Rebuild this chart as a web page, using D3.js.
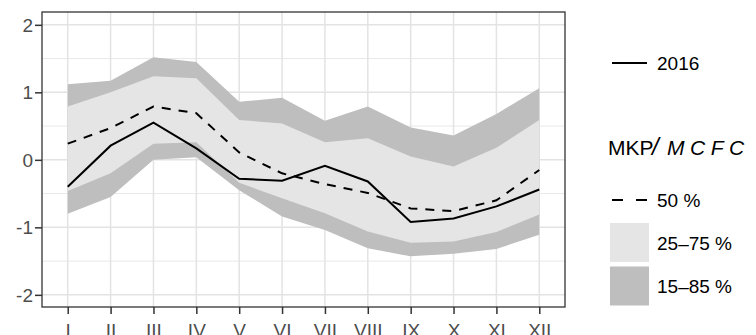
<!DOCTYPE html>
<html>
<head>
<meta charset="utf-8">
<script src="https://cdn.jsdelivr.net/npm/d3@7"></script>
<style>
  body { margin: 0; background: #fff; }
  svg { display: block; font-family: "Liberation Sans", Arial, sans-serif; }
</style>
</head>
<body>
<svg id="chart" width="756" height="335"></svg>
<script>
const months = ['I', 'II', 'III', 'IV', 'V', 'VI', 'VII', 'VIII', 'IX', 'X', 'XI', 'XII'];
const q15 = [-0.80, -0.55, 0.00, 0.04, -0.45, -0.84, -1.04, -1.31, -1.43, -1.39, -1.32, -1.11];
const q25 = [-0.46, -0.20, 0.24, 0.26, -0.34, -0.57, -0.79, -1.06, -1.23, -1.21, -1.07, -0.81];
const q50 = [0.24, 0.47, 0.79, 0.69, 0.11, -0.20, -0.36, -0.49, -0.72, -0.76, -0.60, -0.15];
const q75 = [0.79, 1.00, 1.24, 1.21, 0.59, 0.54, 0.26, 0.32, 0.05, -0.10, 0.18, 0.59];
const q85 = [1.12, 1.17, 1.52, 1.45, 0.86, 0.92, 0.58, 0.79, 0.48, 0.36, 0.68, 1.06];
const y2016 = [-0.40, 0.21, 0.55, 0.17, -0.28, -0.31, -0.09, -0.32, -0.92, -0.87, -0.69, -0.44];
const yTicks = [-2, -1, 0, 1, 2];
const yMinor = [-1.5, -0.5, 0.5, 1.5];

const panel = { left: 42, right: 565, top: 12, bottom: 307 };
const svg = d3.select('#chart');

const x = d3.scalePoint().domain(months).range([panel.left, panel.right]).padding(0.6);
const y = d3.scaleLinear().domain([-2.18, 2.19]).range([panel.bottom, panel.top]);

// grid
const grid = svg.append('g');
grid.selectAll('.minor').data(yMinor).enter().append('line')
  .attr('x1', panel.left).attr('x2', panel.right)
  .attr('y1', d => y(d)).attr('y2', d => y(d))
  .attr('stroke', '#e8e8e8').attr('stroke-width', 1);
grid.selectAll('.major').data(yTicks).enter().append('line')
  .attr('x1', panel.left).attr('x2', panel.right)
  .attr('y1', d => y(d)).attr('y2', d => y(d))
  .attr('stroke', '#e3e3e3').attr('stroke-width', 1.5);
grid.selectAll('.vx').data(months).enter().append('line')
  .attr('x1', d => x(d)).attr('x2', d => x(d))
  .attr('y1', panel.top).attr('y2', panel.bottom)
  .attr('stroke', '#e3e3e3').attr('stroke-width', 1.5);

// bands
const rows = months.map((m, i) => ({ m, q15: q15[i], q25: q25[i], q50: q50[i], q75: q75[i], q85: q85[i], v: y2016[i] }));
const band = (lo, hi) => d3.area().x(d => x(d.m)).y0(d => y(d[lo])).y1(d => y(d[hi]));

svg.append('path').datum(rows).attr('d', band('q15', 'q85')).attr('fill', '#bebebe');
svg.append('path').datum(rows).attr('d', band('q25', 'q75')).attr('fill', '#e5e5e5');

// lines
svg.append('path').datum(rows)
  .attr('d', d3.line().x(d => x(d.m)).y(d => y(d.q50)))
  .attr('fill', 'none').attr('stroke', '#000').attr('stroke-width', 2)
  .attr('stroke-dasharray', '9,8');
svg.append('path').datum(rows)
  .attr('d', d3.line().x(d => x(d.m)).y(d => y(d.v)))
  .attr('fill', 'none').attr('stroke', '#000').attr('stroke-width', 2);

// panel border
svg.append('rect')
  .attr('x', panel.left).attr('y', panel.top)
  .attr('width', panel.right - panel.left).attr('height', panel.bottom - panel.top)
  .attr('fill', 'none').attr('stroke', '#333').attr('stroke-width', 1.3);

// axes
const yAxis = svg.append('g').attr('transform', `translate(${panel.left},0)`)
  .call(d3.axisLeft(y).tickValues(yTicks).tickSize(7).tickPadding(2).tickFormat(d3.format('d')));
const xAxis = svg.append('g').attr('transform', `translate(0,${panel.bottom})`)
  .call(d3.axisBottom(x).tickSize(7).tickPadding(10));
[yAxis, xAxis].forEach(g => {
  g.select('.domain').remove();
  g.selectAll('.tick line').attr('stroke', '#333').attr('stroke-width', 1.5);
  g.selectAll('.tick text').attr('fill', '#4d4d4d').style('font-size', '19px')
    .style('font-family', '"Liberation Sans", Arial, sans-serif');
});
yAxis.selectAll('.tick text').attr('dy', '0.35em').text(d => d < 0 ? '-' + Math.abs(d) : d);
xAxis.selectAll('.tick text').attr('dy', '0.71em');

// legend
const lg = svg.append('g').style('font-size', '19px');
const keyX = 612, keyW = 35, txtX = 657;
lg.append('line').attr('x1', keyX).attr('x2', keyX + keyW).attr('y1', 63).attr('y2', 63)
  .attr('stroke', '#000').attr('stroke-width', 2);
lg.append('text').attr('x', txtX).attr('y', 70).text('2016');

const title = lg.append('text').attr('y', 155).style('font-size', '21px');
title.append('tspan').attr('x', 608).text('MKP');
title.append('tspan').attr('x', 652).style('font-size', '24px').attr('font-style', 'italic').text('/');
title.append('tspan').attr('x', 667).attr('font-style', 'italic').attr('letter-spacing', 5.5).text('MCFC');

lg.append('line').attr('x1', keyX).attr('x2', keyX + keyW).attr('y1', 200).attr('y2', 200)
  .attr('stroke', '#000').attr('stroke-width', 2).attr('stroke-dasharray', '11,13');
lg.append('text').attr('x', txtX).attr('y', 207).text('50 %');

lg.append('rect').attr('x', 610).attr('y', 223).attr('width', 39).attr('height', 39).attr('fill', '#e5e5e5');
lg.append('text').attr('x', txtX).attr('y', 250).text('25–75 %');
lg.append('rect').attr('x', 610).attr('y', 266.5).attr('width', 39).attr('height', 39).attr('fill', '#bebebe');
lg.append('text').attr('x', txtX).attr('y', 293).text('15–85 %');
</script>
</body>
</html>
